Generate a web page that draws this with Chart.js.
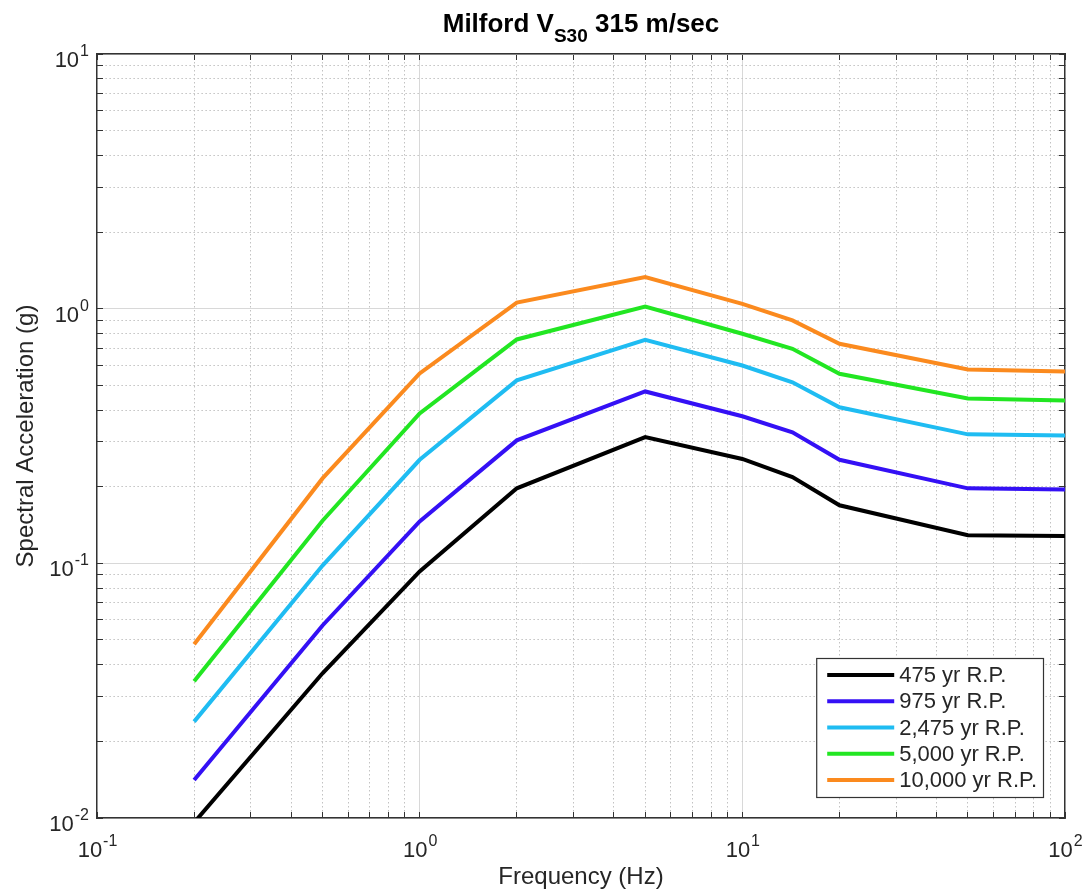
<!DOCTYPE html>
<html>
<head>
<meta charset="utf-8">
<script src="https://cdn.jsdelivr.net/npm/chart.js@4.4.1/dist/chart.umd.min.js"></script>
<style>
  html, body { margin: 0; padding: 0; background: #ffffff; }
  canvas { display: block; }
</style>
</head>
<body>
<canvas id="chart" width="1084" height="894" style="width:1084px;height:894px"></canvas>
<script>
// ---------- data ----------
const frequencies = [0.2, 0.5, 1, 2, 5, 10, 14.3, 20, 50, 100];
const seriesLabels = ['475 yr R.P.', '975 yr R.P.', '2,475 yr R.P.', '5,000 yr R.P.', '10,000 yr R.P.'];
const rp475   = [0.0096, 0.037, 0.093, 0.197, 0.313, 0.257, 0.218, 0.169, 0.129, 0.128];
const rp975   = [0.0141, 0.057, 0.146, 0.304, 0.473, 0.378, 0.327, 0.255, 0.197, 0.195];
const rp2475  = [0.0239, 0.098, 0.255, 0.523, 0.755, 0.598, 0.514, 0.410, 0.321, 0.318];
const rp5000  = [0.0344, 0.147, 0.388, 0.757, 1.02, 0.797, 0.696, 0.555, 0.444, 0.436];
const rp10000 = [0.0481, 0.2155, 0.557, 1.057, 1.33, 1.045, 0.899, 0.728, 0.577, 0.567];
const seriesColors = ['#000000', '#3410f5', '#1fbcf2', '#22e622', '#fb8a1e'];

// tick labels: base "10" with exponent
const xMajorTicks = [0.1, 1, 10, 100];
const xTickExponents = ['-1', '0', '1', '2'];
const yMajorTicks = [0.01, 0.1, 1, 10];
const yTickExponents = ['-2', '-1', '0', '1'];
const tickBase = '10';

const titleMain = 'Milford V';
const titleSub = 'S30';
const titleRest = ' 315 m/sec';
const xTitle = 'Frequency (Hz)';
const yTitle = 'Spectral Acceleration (g)';

// ---------- helpers ----------
const FONT = "'Liberation Sans', Arial, Helvetica, sans-serif";
const TEXT = '#262626';
const allSeries = [rp475, rp975, rp2475, rp5000, rp10000];

function isDecade(v) {
  if (v === undefined || v === null) return false;
  const l = Math.log10(v);
  return Math.abs(l - Math.round(l)) < 1e-9;
}
function logTicks(majors) {
  return function (scale) {
    const t = [];
    for (let i = 0; i < majors.length - 1; i++) {
      for (let m = 1; m <= 9; m++) {
        t.push({ value: majors[i] * m, major: m === 1 });
      }
    }
    t.push({ value: majors[majors.length - 1], major: true });
    scale.ticks = t;
  };
}
const gridColor = (ctx) => (ctx.tick && isDecade(ctx.tick.value)) ? '#d8d8d8' : '#c2c2c2';
const gridDash = (ctx) => (ctx.tick && !isDecade(ctx.tick.value)) ? [1.5, 2.5] : [];

const datasets = allSeries.map((vals, k) => ({
  label: seriesLabels[k],
  data: frequencies.map((f, i) => ({ x: f, y: vals[i] })),
  borderColor: seriesColors[k],
  backgroundColor: seriesColors[k],
  borderWidth: 4,
  pointRadius: 0,
  pointHoverRadius: 0,
  tension: 0,
  fill: false,
  borderJoinStyle: 'miter'
}));

// ---------- plugins ----------
const tickLabelPlugin = {
  id: 'powerTickLabels',
  afterDraw(chart) {
    const ctx = chart.ctx;
    const xs = chart.scales.x, ys = chart.scales.y;
    const baseFont = "22px " + FONT;
    const expFont = "16px " + FONT;
    ctx.save();
    ctx.fillStyle = TEXT;
    ctx.textBaseline = 'alphabetic';
    ctx.textAlign = 'left';
    // x axis
    xMajorTicks.forEach((v, i) => {
      const px = xs.getPixelForValue(v);
      ctx.font = baseFont;
      const wb = ctx.measureText(tickBase).width;
      ctx.font = expFont;
      const we = ctx.measureText(xTickExponents[i]).width;
      const x0 = px - (wb + we) / 2;
      const base = xs.top + 39;
      ctx.font = baseFont;
      ctx.fillText(tickBase, x0, base);
      ctx.font = expFont;
      ctx.fillText(xTickExponents[i], x0 + wb + 1, base - 11);
    });
    // y axis
    yMajorTicks.forEach((v, i) => {
      const py = ys.getPixelForValue(v);
      ctx.font = baseFont;
      const wb = ctx.measureText(tickBase).width;
      ctx.font = expFont;
      const we = ctx.measureText(yTickExponents[i]).width;
      const right = ys.right - 8;
      const x0 = right - we - 1 - wb;
      const base = py + 13;
      ctx.font = baseFont;
      ctx.fillText(tickBase, x0, base);
      ctx.font = expFont;
      ctx.fillText(yTickExponents[i], x0 + wb + 1, base - 11);
    });
    ctx.restore();
  }
};

const titlePlugin = {
  id: 'matlabTitle',
  afterDraw(chart) {
    const ctx = chart.ctx;
    const area = chart.chartArea;
    ctx.save();
    const mainFont = "bold 26px " + FONT;
    const subFont = "bold 19px " + FONT;
    ctx.font = mainFont;
    const w1 = ctx.measureText(titleMain).width;
    const w3 = ctx.measureText(titleRest).width;
    ctx.font = subFont;
    const w2 = ctx.measureText(titleSub).width;
    const total = w1 + w2 + w3;
    let x = (area.left + area.right) / 2 - total / 2;
    const base = area.top - 22;
    ctx.fillStyle = '#000000';
    ctx.textBaseline = 'alphabetic';
    ctx.textAlign = 'left';
    ctx.font = mainFont;
    ctx.fillText(titleMain, x, base);
    x += w1;
    ctx.font = subFont;
    ctx.fillText(titleSub, x, base + 10);
    x += w2;
    ctx.font = mainFont;
    ctx.fillText(titleRest, x, base);
    ctx.restore();
  }
};

const legendPlugin = {
  id: 'boxLegend',
  afterDraw(chart) {
    const ctx = chart.ctx;
    const area = chart.chartArea;
    ctx.save();
    const font = "22px " + FONT;
    ctx.font = font;
    const labels = chart.data.datasets.map(d => d.label);
    const maxW = Math.max(...labels.map(l => ctx.measureText(l).width));
    const padL = 11, sample = 67, gap = 5, padR = 6, rowH = 26.2, padV = 4;
    const boxW = padL + sample + gap + maxW + padR;
    const boxH = rowH * labels.length + padV * 2;
    const right = area.right - 22;
    const bottom = area.bottom - 21;
    const left = right - boxW;
    const top = bottom - boxH;
    ctx.fillStyle = '#ffffff';
    ctx.fillRect(left, top, boxW, boxH);
    ctx.strokeStyle = '#333333';
    ctx.lineWidth = 1.2;
    ctx.strokeRect(left + 0.5, top + 0.5, boxW, boxH);
    chart.data.datasets.forEach((d, i) => {
      const cy = top + padV + rowH * i + rowH / 2;
      ctx.strokeStyle = d.borderColor;
      ctx.lineWidth = 4;
      ctx.beginPath();
      ctx.moveTo(left + padL, cy);
      ctx.lineTo(left + padL + sample, cy);
      ctx.stroke();
      ctx.fillStyle = TEXT;
      ctx.textBaseline = 'middle';
      ctx.textAlign = 'left';
      ctx.fillText(d.label, left + padL + sample + gap, cy + 1);
    });
    ctx.restore();
  }
};

// ---------- chart ----------
const W = 1084, H = 894;
const plotLeft = 97, plotRight = 1065, plotTop = 54, plotBottom = 818;

function innerTickGrid(onArea) {
  return {
    color: gridColor,
    lineWidth: 1,
    drawOnChartArea: onArea,
    drawTicks: true,
    tickLength: -6,
    tickColor: '#333333',
    tickWidth: 1
  };
}

new Chart(document.getElementById('chart'), {
  type: 'line',
  data: { datasets },
  options: {
    responsive: false,
    animation: false,
    devicePixelRatio: 1,
    layout: { padding: 0, autoPadding: false },
    plugins: {
      legend: { display: false },
      title: { display: false },
      tooltip: { enabled: false }
    },
    events: [],
    scales: {
      x: {
        type: 'logarithmic',
        position: 'bottom',
        min: 0.1,
        max: 100,
        afterBuildTicks: logTicks(xMajorTicks),
        afterFit: (s) => { s.height = H - plotBottom; s.paddingLeft = 0; s.paddingRight = 0; },
        ticks: { display: false },
        grid: innerTickGrid(true),
        border: { display: true, color: '#333333', width: 1.4, dash: gridDash },
        title: {
          display: true,
          text: xTitle,
          color: TEXT,
          font: { family: FONT, size: 24 },
          padding: { top: 0, bottom: 2 }
        }
      },
      x2: {
        type: 'logarithmic',
        position: 'top',
        min: 0.1,
        max: 100,
        afterBuildTicks: logTicks(xMajorTicks),
        afterFit: (s) => { s.height = plotTop; s.paddingLeft = 0; s.paddingRight = 0; },
        ticks: { display: false },
        grid: innerTickGrid(false),
        border: { display: true, color: '#333333', width: 1.4 }
      },
      y: {
        type: 'logarithmic',
        position: 'left',
        min: 0.01,
        max: 10,
        afterBuildTicks: logTicks(yMajorTicks),
        afterFit: (s) => { s.width = plotLeft; s.paddingTop = 0; s.paddingBottom = 0; },
        ticks: { display: false },
        grid: innerTickGrid(true),
        border: { display: true, color: '#333333', width: 1.4, dash: gridDash },
        title: {
          display: true,
          text: yTitle,
          color: TEXT,
          font: { family: FONT, size: 24 },
          padding: { top: 12, bottom: 0 }
        }
      },
      y2: {
        type: 'logarithmic',
        position: 'right',
        min: 0.01,
        max: 10,
        afterBuildTicks: logTicks(yMajorTicks),
        afterFit: (s) => { s.width = W - plotRight; s.paddingTop = 0; s.paddingBottom = 0; },
        ticks: { display: false },
        grid: innerTickGrid(false),
        border: { display: true, color: '#333333', width: 1.4 }
      }
    }
  },
  plugins: [tickLabelPlugin, titlePlugin, legendPlugin]
});
</script>
</body>
</html>
